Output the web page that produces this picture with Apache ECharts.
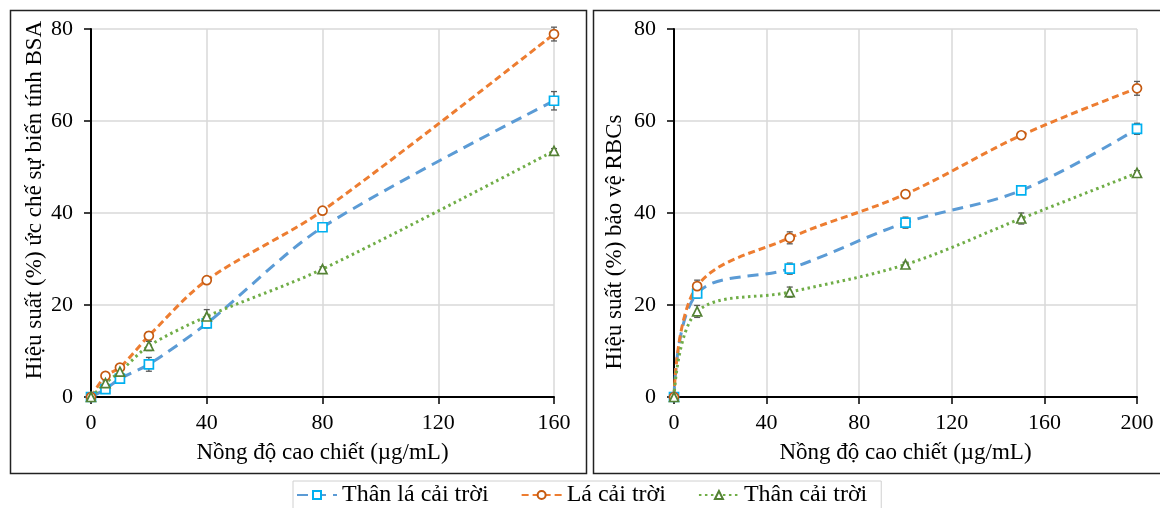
<!DOCTYPE html>
<html><head><meta charset="utf-8">
<script src="https://cdn.jsdelivr.net/npm/echarts@6/dist/echarts.min.js"></script>
<style>html,body{margin:0;padding:0;background:#fff}#c{width:1160px;height:508px}</style>
</head><body><div id="c"></div>
<script>
// ---- data ----
const seriesNames = ['Thân lá cải trời', 'Lá cải trời', 'Thân cải trời'];
const xBSA = [0, 5, 10, 20, 40, 80, 160];
const bsaThanLa = [0, 1.7, 4.0, 7.1, 16.0, 36.9, 64.4];
const bsaLa = [0, 4.6, 6.4, 13.3, 25.4, 40.5, 78.9];
const bsaThan = [0, 3.0, 5.5, 11.1, 17.5, 27.8, 53.5];
const bsaThanLaErr = [0.3, 0.8, 0.8, 1.5, 1.0, 0.8, 2.0];
const bsaLaErr = [0.3, 0.5, 0.5, 0.8, 0.5, 0.5, 1.5];
const bsaThanErr = [0.3, 0.5, 0.8, 1.0, 1.5, 0.5, 0.5];

const xRBC = [0, 10, 50, 100, 150, 200];
const rbcThanLa = [0, 22.5, 27.9, 37.9, 44.9, 58.3];
const rbcLa = [0, 24.1, 34.6, 44.1, 56.9, 67.1];
const rbcThan = [0, 18.6, 22.8, 28.8, 38.8, 48.7];
const rbcThanLaErr = [0.3, 1.0, 1.2, 1.2, 0.8, 1.2];
const rbcLaErr = [0.3, 1.3, 1.3, 0.6, 0.6, 1.5];
const rbcThanErr = [0.3, 1.3, 1.1, 0.5, 1.2, 0.5];

const xAxisNameText = 'Nồng độ cao chiết (µg/mL)';
const yNameBSA = 'Hiệu suất (%) ức chế sự biến tính BSA';
const yNameRBC = 'Hiệu suất (%) bảo vệ RBCs';
const xMaxBSA = 160, xMaxRBC = 200, xInterval = 40;
const yMax = 80, yInterval = 20;

// ---- styles ----
const FONT = "'Liberation Serif', 'Times New Roman', serif";
const styles = [
  { line: '#5B9BD5', mark: '#00B0F0', symbol: 'rect', dash: [11, 7] },
  { line: '#ED7D31', mark: '#C55A11', symbol: 'circle', dash: [7, 4] },
  { line: '#70AD47', mark: '#548235', symbol: 'triangle', dash: [2.5, 3.5] }
];

function lineSeries(name, xs, ys, st, idx, smooth) {
  return {
    name: name, type: 'line', xAxisIndex: idx, yAxisIndex: idx, z: 3,
    data: xs.map((x, i) => [x, ys[i]]),
    smooth: smooth, symbol: st.symbol, symbolSize: 9,
    lineStyle: { color: st.line, width: 3, type: st.dash, cap: 'butt' },
    itemStyle: { color: '#fff', borderColor: st.mark, borderWidth: 1.7 },
    emphasis: { disabled: true }
  };
}
function errSeries(xs, ys, es, idx) {
  return {
    type: 'custom', xAxisIndex: idx, yAxisIndex: idx, z: 2, silent: true,
    data: xs.map((x, i) => [x, ys[i], es[i]]),
    renderItem: function (params, api) {
      const x = api.value(0), y = api.value(1), e = api.value(2);
      const t = api.coord([x, y + e]), b = api.coord([x, y - e]);
      const w = 3, s = { stroke: '#595959', lineWidth: 1.3 };
      return { type: 'group', children: [
        { type: 'line', shape: { x1: t[0], y1: t[1], x2: b[0], y2: b[1] }, style: s },
        { type: 'line', shape: { x1: t[0] - w, y1: t[1], x2: t[0] + w, y2: t[1] }, style: s },
        { type: 'line', shape: { x1: b[0] - w, y1: b[1], x2: b[0] + w, y2: b[1] }, style: s }
      ]};
    }
  };
}
function xAx(idx, max) {
  return {
    type: 'value', gridIndex: idx, min: 0, max: max, interval: xInterval,
    name: xAxisNameText, nameLocation: 'middle', nameGap: 44,
    nameTextStyle: { fontFamily: FONT, fontSize: 23, color: '#000' },
    axisLine: { show: true, onZero: false, lineStyle: { color: '#000', width: 2 } },
    axisTick: { show: true, length: 7, lineStyle: { color: '#000', width: 1.5 } },
    axisLabel: { fontFamily: FONT, fontSize: 22, color: '#000', margin: 15 },
    splitLine: { show: true, lineStyle: { color: '#d9d9d9', width: 1.5 } }
  };
}
function yAx(idx) {
  return {
    type: 'value', gridIndex: idx, min: 0, max: yMax, interval: yInterval,
    axisLine: { show: true, lineStyle: { color: '#000', width: 2 } },
    axisTick: { show: true, length: 7, lineStyle: { color: '#000', width: 1.5 } },
    axisLabel: { fontFamily: FONT, fontSize: 22, color: '#000', margin: 18 },
    splitLine: { show: true, lineStyle: { color: '#d9d9d9', width: 1.5 } }
  };
}

const chart = echarts.init(document.getElementById('c'), null, { renderer: 'canvas' });
chart.setOption({
  backgroundColor: '#fff',
  animation: false,
  grid: [
    { left: 91, top: 29, width: 463, height: 368 },
    { left: 674, top: 29, width: 463, height: 368 }
  ],
  xAxis: [xAx(0, xMaxBSA), xAx(1, xMaxRBC)],
  yAxis: [yAx(0), yAx(1)],
  legend: {
    data: seriesNames, left: 293, top: 481,
    padding: [2, 14, 2, 3], itemGap: 32, itemWidth: 40, itemHeight: 10,
    borderColor: '#d0d0d0', borderWidth: 1,
    textStyle: { fontFamily: FONT, fontSize: 24, color: '#000' }
  },
  graphic: [
    { type: 'rect', z: -10, shape: { x: 10.5, y: 10.5, width: 576, height: 463 },
      style: { fill: 'none', stroke: '#222', lineWidth: 1.5 } },
    { type: 'rect', z: -10, shape: { x: 593.5, y: 10.5, width: 580, height: 463 },
      style: { fill: 'none', stroke: '#222', lineWidth: 1.5 } },
    { type: 'text', x: 35, y: 200, rotation: Math.PI / 2,
      style: { text: yNameBSA, font: '23px ' + FONT, fill: '#000', align: 'center', verticalAlign: 'middle' } },
    { type: 'text', x: 615, y: 242, rotation: Math.PI / 2,
      style: { text: yNameRBC, font: '23px ' + FONT, fill: '#000', align: 'center', verticalAlign: 'middle' } }
  ],
  series: [
    errSeries(xBSA, bsaThanLa, bsaThanLaErr, 0),
    errSeries(xBSA, bsaLa, bsaLaErr, 0),
    errSeries(xBSA, bsaThan, bsaThanErr, 0),
    errSeries(xRBC, rbcThanLa, rbcThanLaErr, 1),
    errSeries(xRBC, rbcLa, rbcLaErr, 1),
    errSeries(xRBC, rbcThan, rbcThanErr, 1),
    lineSeries(seriesNames[0], xBSA, bsaThanLa, styles[0], 0, 0.3),
    lineSeries(seriesNames[1], xBSA, bsaLa, styles[1], 0, 0.3),
    lineSeries(seriesNames[2], xBSA, bsaThan, styles[2], 0, 0.3),
    lineSeries(seriesNames[0], xRBC, rbcThanLa, styles[0], 1, 0.35),
    lineSeries(seriesNames[1], xRBC, rbcLa, styles[1], 1, 0.35),
    lineSeries(seriesNames[2], xRBC, rbcThan, styles[2], 1, 0.35)
  ]
});
</script></body></html>
